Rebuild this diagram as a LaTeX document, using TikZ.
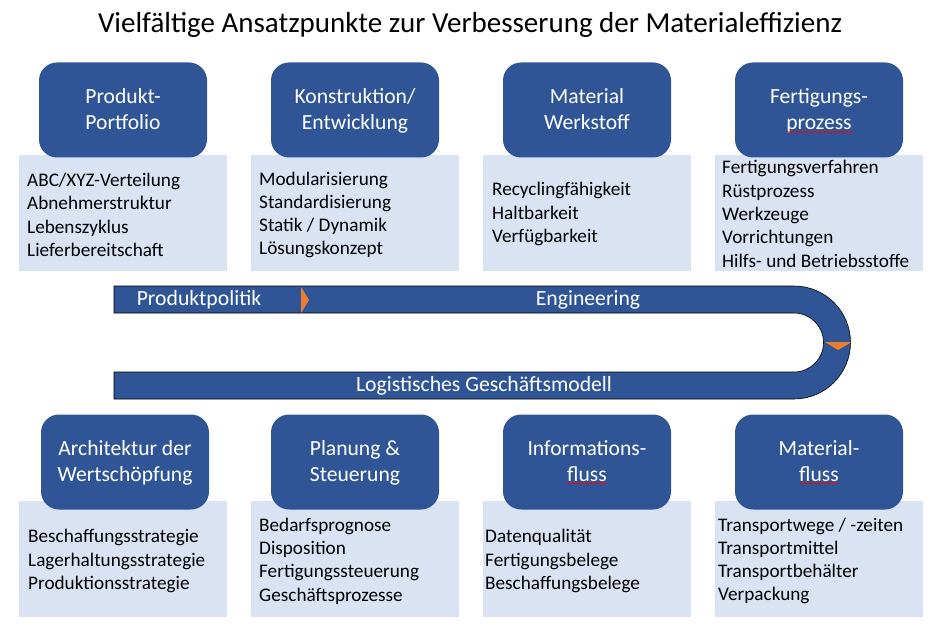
\documentclass[tikz,border=0pt]{standalone}
\usepackage{fontspec}
\setmainfont{Carlito}
\usetikzlibrary{decorations.pathmorphing}
\definecolor{boxblue}{HTML}{2F5597}
\definecolor{paleblue}{HTML}{DAE3F3}
\definecolor{arrowor}{HTML}{ED7D31}
\newcommand{\headstrut}{\rule[-5pt]{0pt}{23pt}}
\begin{document}
\begin{tikzpicture}[x=1pt,y=-1pt,
  head/.style={fill=boxblue,rounded corners=18pt,minimum width=168pt,minimum height=95pt,
    text=white,align=center,font=\fontsize{21.6}{26}\selectfont,inner sep=0pt},
  list/.style={fill=paleblue,minimum width=208pt,minimum height=116pt,inner sep=0pt},
  items/.style={anchor=west,align=left,inner sep=0pt,font=\fontsize{19.2}{23.3}\selectfont},
  bandtext/.style={text=white,inner sep=0pt,font=\fontsize{21.7}{24}\selectfont},
  typo/.style={red,line width=0.5pt,decorate,decoration={snake,amplitude=0.7pt,segment length=2.5pt}}]
\useasboundingbox (0,0) rectangle (942,631);
\node[anchor=base] (title) at (470,33) {\fontsize{29}{32}\selectfont Vielfältige Ansatzpunkte zur Verbesserung der Materialeffizienz};
% upper row
\node[list] (tl1) at (123,213) {};
\node[list] (tl2) at (354.5,213) {};
\node[list] (tl3) at (586.5,213) {};
\node[list] (tl4) at (818.5,213) {};
\node[head] (t1) at (123,110) {\headstrut Produkt-\\Portfolio\headstrut};
\node[head] (t2) at (355,110) {\headstrut Konstruktion/\\Entwicklung\headstrut};
\node[head] (t3) at (587,110) {\headstrut Material\\Werkstoff\headstrut};
\node[head] (t4) at (819,110) {\headstrut Fertigungs-\\prozess\headstrut};
\node[items] (ti1) at (27,215) {ABC/XYZ-Verteilung\\Abnehmerstruktur\\Lebenszyklus\\Lieferbereitschaft};
\node[items] (ti2) at (259,215) {Modularisierung\\Standardisierung\\Statik / Dynamik\\Lösungskonzept};
\node[items] (ti3) at (492,214) {Recyclingfähigkeit\\Haltbarkeit\\Verfügbarkeit};
\node[items] (ti4) at (722,214) {Fertigungsverfahren\\Rüstprozess\\Werkzeuge\\Vorrichtungen\\Hilfs- und Betriebsstoffe};
% band
\draw[fill=boxblue,line width=0.6pt] (114,286) -- (794,286) arc(-90:90:56.5) -- (114,399) -- (114,372)
  -- (794,372) arc(90:-90:29.5) -- (114,313) -- cycle;
\fill[arrowor] (301,287) -- (309,300) -- (301,313) -- cycle;
\fill[arrowor] (825,342) -- (852,342) -- (838,350) -- cycle;
\node[bandtext] (pp) at (199,300) {Produktpolitik};
\node[bandtext] (en) at (588,300) {Engineering};
\node[bandtext] (lg) at (484,386) {Logistisches Geschäftsmodell};
% lower row
\node[list] (bl1) at (123,559) {};
\node[list] (bl2) at (354.5,559) {};
\node[list] (bl3) at (586.5,559) {};
\node[list] (bl4) at (818.5,559) {};
\node[head] (b1) at (125,462) {\headstrut Architektur der\\Wertschöpfung\headstrut};
\node[head] (b2) at (355,462) {\headstrut Planung \&\\Steuerung\headstrut};
\node[head] (b3) at (587,462) {\headstrut Informations-\\fluss\headstrut};
\node[head] (b4) at (819,462) {\headstrut Material-\\fluss\headstrut};
\node[items] (bi1) at (28,561) {Beschaffungsstrategie\\Lagerhaltungsstrategie\\Produktionsstrategie};
\node[items] (bi2) at (259,561) {Bedarfsprognose\\Disposition\\Fertigungssteuerung\\Geschäftsprozesse};
\node[items] (bi3) at (485,561) {Datenqualität\\Fertigungsbelege\\Beschaffungsbelege};
\node[items] (bi4) at (718,561) {Transportwege / -zeiten\\Transportmittel\\Transportbehälter\\Verpackung};
% spell check marks
\draw[typo] (787,132) -- (853,132);
\draw[typo] (567,483) -- (607,483);
\draw[typo] (800,483) -- (838,483);
\end{tikzpicture}
\end{document}
